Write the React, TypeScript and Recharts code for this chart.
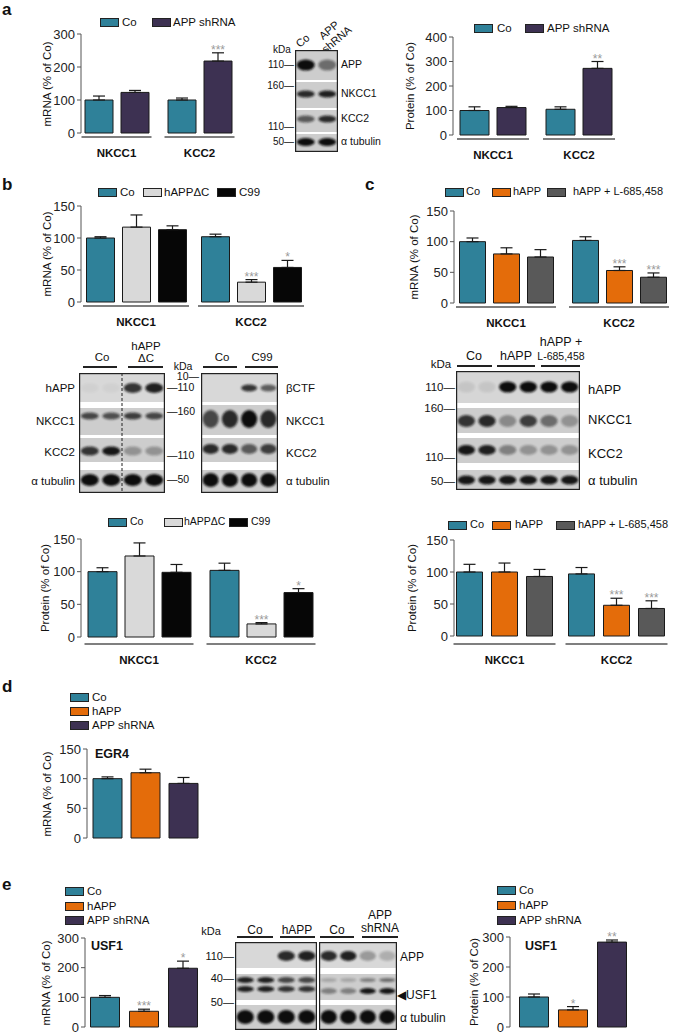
import React from "react";
import { BarChart, Bar, XAxis, YAxis, ErrorBar, LabelList } from "recharts";

const FONT = '"Liberation Sans", Arial, sans-serif';

const TEAL = "#2f8199";
const PURPLE = "#3d3152";
const ORANGE = "#e46c0a";
const DGRAY = "#595959";
const LGRAY = "#d9d9d9";
const BLACK = "#060606";

const groups = ["NKCC1", "KCC2"];
const ticks150 = [0, 50, 100, 150];
const ticks300 = [0, 100, 200, 300];
const ticks400 = [0, 100, 200, 300, 400];

// a: APP shRNA
const aMrnaCo = [100, 100];
const aMrnaCoErr = [12, 6];
const aMrnaSh = [123, 218];
const aMrnaShErr = [6, 25];
const aMrnaShSig = ["", "***"];
const aProtCo = [100, 105];
const aProtCoErr = [15, 10];
const aProtSh = [112, 272];
const aProtShErr = [5, 28];
const aProtShSig = ["", "**"];

// b: hAPPΔC / C99
const bMrnaCo = [100, 102];
const bMrnaCoErr = [2, 4];
const bMrnaDc = [117, 31];
const bMrnaDcErr = [19, 4];
const bMrnaDcSig = ["", "***"];
const bMrnaC99 = [113, 54];
const bMrnaC99Err = [6, 11];
const bMrnaC99Sig = ["", "*"];
const bProtCo = [100, 102];
const bProtCoErr = [6, 11];
const bProtDc = [124, 20];
const bProtDcErr = [20, 2];
const bProtDcSig = ["", "***"];
const bProtC99 = [99, 68];
const bProtC99Err = [12, 6];
const bProtC99Sig = ["", "*"];

// c: hAPP / hAPP + L-685,458
const cMrnaCo = [100, 102];
const cMrnaCoErr = [6, 6];
const cMrnaH = [80, 53];
const cMrnaHErr = [10, 6];
const cMrnaHSig = ["", "***"];
const cMrnaL = [75, 42];
const cMrnaLErr = [12, 7];
const cMrnaLSig = ["", "***"];
const cProtCo = [100, 97];
const cProtCoErr = [12, 10];
const cProtH = [100, 48];
const cProtHErr = [14, 11];
const cProtHSig = ["", "***"];
const cProtL = [93, 43];
const cProtLErr = [11, 12];
const cProtLSig = ["", "***"];

// d: EGR4
const dCo = [100];
const dCoErr = [3];
const dH = [110];
const dHErr = [6];
const dSh = [92];
const dShErr = [10];

// e: USF1
const eMrnaCo = [100];
const eMrnaCoErr = [6];
const eMrnaH = [53];
const eMrnaHErr = [7];
const eMrnaHSig = ["***"];
const eMrnaSh = [198];
const eMrnaShErr = [24];
const eMrnaShSig = ["*"];
const eProtCo = [100];
const eProtCoErr = [10];
const eProtH = [57];
const eProtHErr = [11];
const eProtHSig = ["*"];
const eProtSh = [283];
const eProtShErr = [7];
const eProtShSig = ["**"];

type S = { name: string; color: string; values: number[]; errs: number[]; sigs?: string[] };

const ser = (name: string, color: string, values: number[], errs: number[], sigs?: string[]): S => ({
  name,
  color,
  values,
  errs,
  sigs,
});

function makeRows(cats: string[], series: S[]) {
  return cats.map((c, i) => {
    const r: any = { cat: c };
    series.forEach((s, j) => {
      r[`v${j}`] = s.values[i];
      r[`e${j}`] = [0, s.errs[i]];
      r[`l${j}`] = `${s.sigs ? s.sigs[i] : ""}|${s.errs[i]}`;
    });
    return r;
  });
}

function T({ x, y, a = "start", s = 12, b = false, c = "#111", r = 0, children }: any) {
  const tx = a === "start" ? "0" : a === "middle" ? "-50%" : "-100%";
  return (
    <div
      style={{
        position: "absolute",
        left: x,
        top: y,
        transform: `translate(${tx},-50%)${r ? ` rotate(${r}deg)` : ""}`,
        fontSize: s,
        fontWeight: b ? 700 : 400,
        color: c,
        whiteSpace: "nowrap",
        lineHeight: 1.05,
        textAlign: "center",
      }}
    >
      {children}
    </div>
  );
}

function Swatch({ x, y, color }: any) {
  return (
    <div
      style={{
        position: "absolute",
        left: x,
        top: y - 4,
        width: 17,
        height: 7,
        background: color,
        border: "1px solid #222",
      }}
    />
  );
}

// legend in a row: xs = swatch lefts, ts = text lefts
function LegendRow({ series, y, xs, ts, s = 11.5 }: any) {
  return (
    <>
      {series.map((it: S, i: number) => (
        <React.Fragment key={i}>
          <Swatch x={xs[i]} y={y} color={it.color} />
          <T x={ts[i]} y={y} s={s}>
            {it.name}
          </T>
        </React.Fragment>
      ))}
    </>
  );
}

function LegendCol({ series, x, y, dy }: any) {
  return (
    <>
      {series.map((it: S, i: number) => (
        <React.Fragment key={i}>
          <Swatch x={x} y={y + i * dy} color={it.color} />
          <T x={x + 22} y={y + i * dy} s={11.5}>
            {it.name}
          </T>
        </React.Fragment>
      ))}
    </>
  );
}

type ChartProps = {
  cats: string[];
  series: S[];
  axisX: number;
  top: number;
  bottom: number;
  ticks: number[];
  centers: number[];
  barSize: number;
  barGap: number;
  ylabel: string;
  ylx: number;
  showX?: boolean;
  ul?: number;
  lb?: number;
};

function Chart(p: ChartProps) {
  const AW = 40;
  const MT = 14;
  const showX = p.showX !== false;
  const XH = showX ? 34 : 0;
  const MB = showX ? 0 : 8;
  const n = p.series.length;
  const span = n * p.barSize + (n - 1) * p.barGap;
  const W = p.centers.length > 1 ? p.centers[1] - p.centers[0] : span + 20;
  const B0 = p.centers[0] - W / 2;
  const plotRight = B0 + p.cats.length * W;
  const width = AW + (plotRight - p.axisX) + 2;
  const plotH = p.bottom - p.top;
  const height = MT + plotH + XH + MB;
  const max = p.ticks[p.ticks.length - 1];
  const k = plotH / max;
  const ul = p.ul ?? 4;
  const lb = p.lb ?? 20;
  const data = makeRows(p.cats, p.series);

  const sigContent = (props: any) => {
    const vb = props.viewBox || props;
    const [sig, err] = String(props.value ?? "").split("|");
    if (!sig) return null;
    return (
      <text
        x={vb.x + vb.width / 2}
        y={vb.y - Number(err) * k + 1}
        textAnchor="middle"
        fontSize={12}
        fill="#9a9a9a"
      >
        {sig}
      </text>
    );
  };

  const tick = (props: any) => {
    const { x, y, payload } = props;
    const h = span / 2 + 3;
    return (
      <g>
        <line x1={x - h} x2={x + h} y1={y + ul} y2={y + ul} stroke="#555" strokeWidth={1.4} />
        <text x={x} y={y + lb + 4} textAnchor="middle" fontSize={11.5} fontWeight={700} fill="#111">
          {payload.value}
        </text>
      </g>
    );
  };

  return (
    <>
      <div style={{ position: "absolute", left: p.axisX - AW, top: p.top - MT }}>
        <BarChart
          width={width}
          height={height}
          data={data}
          margin={{ top: MT, right: 2, left: 0, bottom: MB }}
          barSize={p.barSize}
          barGap={p.barGap}
        >
          <XAxis
            dataKey="cat"
            hide={!showX}
            height={XH}
            axisLine={false}
            tickLine={false}
            tickSize={0}
            tickMargin={0}
            interval={0}
            padding={{ left: B0 - p.axisX, right: 0 }}
            tick={tick}
          />
          <YAxis
            width={AW}
            domain={[0, max]}
            ticks={p.ticks}
            interval={0}
            tickSize={4}
            tickMargin={2}
            axisLine={{ stroke: "#555" }}
            tickLine={{ stroke: "#555" }}
            tick={{ fontSize: 13, fill: "#222", fontFamily: FONT }}
          />
          {p.series.map((s, j) => (
            <Bar
              key={j}
              dataKey={`v${j}`}
              fill={s.color}
              stroke="#1a1a1a"
              strokeWidth={1}
              isAnimationActive={false}
            >
              <ErrorBar dataKey={`e${j}`} width={6} stroke="#1a1a1a" strokeWidth={1.2} direction="y" />
              <LabelList dataKey={`l${j}`} content={sigContent} />
            </Bar>
          ))}
        </BarChart>
      </div>
      <T x={p.ylx} y={(p.top + p.bottom) / 2} a="middle" s={11.5} r={-90}>
        {p.ylabel}
      </T>
    </>
  );
}

type Band = { y: number; h: number; v: number[] };
type Row = { t: number; h: number; bands: Band[]; bg?: string };

function Blot({ id, x, y, w, h, lanes, rows, dash }: any) {
  const lw = w / lanes;
  return (
    <svg style={{ position: "absolute", left: x, top: y }} width={w} height={h}>
      <defs>
        <filter id={id} x="-50%" y="-100%" width="200%" height="300%">
          <feGaussianBlur stdDeviation="1.3" />
        </filter>
      </defs>
      <rect width={w} height={h} fill="#fff" />
      {rows.map((r: Row, i: number) => (
        <g key={i}>
          <rect x={0} y={r.t} width={w} height={r.h} fill={r.bg ?? "#cdcdcd"} />
          {r.bands.map((b, j) =>
            b.v.map((v, l) => (
              <ellipse
                key={`${j}-${l}`}
                cx={lw * (l + 0.5)}
                cy={r.t + b.y}
                rx={lw * 0.42}
                ry={b.h / 2}
                fill="#111"
                opacity={v}
                filter={`url(#${id})`}
              />
            ))
          )}
        </g>
      ))}
      {dash ? (
        <line x1={lw * dash} x2={lw * dash} y1={0} y2={h} stroke="#222" strokeDasharray="3 2" />
      ) : null}
      <rect x={0.6} y={0.6} width={w - 1.2} height={h - 1.2} fill="none" stroke="#222" strokeWidth={1.2} />
    </svg>
  );
}

function HLine({ x1, x2, y }: any) {
  return <div style={{ position: "absolute", left: x1, top: y - 1, width: x2 - x1, height: 1.5, background: "#222" }} />;
}

export default function App() {
  const aM = [ser("Co", TEAL, aMrnaCo, aMrnaCoErr), ser("APP shRNA", PURPLE, aMrnaSh, aMrnaShErr, aMrnaShSig)];
  const aP = [ser("Co", TEAL, aProtCo, aProtCoErr), ser("APP shRNA", PURPLE, aProtSh, aProtShErr, aProtShSig)];
  const bM = [
    ser("Co", TEAL, bMrnaCo, bMrnaCoErr),
    ser("hAPPΔC", LGRAY, bMrnaDc, bMrnaDcErr, bMrnaDcSig),
    ser("C99", BLACK, bMrnaC99, bMrnaC99Err, bMrnaC99Sig),
  ];
  const bP = [
    ser("Co", TEAL, bProtCo, bProtCoErr),
    ser("hAPPΔC", LGRAY, bProtDc, bProtDcErr, bProtDcSig),
    ser("C99", BLACK, bProtC99, bProtC99Err, bProtC99Sig),
  ];
  const cM = [
    ser("Co", TEAL, cMrnaCo, cMrnaCoErr),
    ser("hAPP", ORANGE, cMrnaH, cMrnaHErr, cMrnaHSig),
    ser("hAPP + L-685,458", DGRAY, cMrnaL, cMrnaLErr, cMrnaLSig),
  ];
  const cP = [
    ser("Co", TEAL, cProtCo, cProtCoErr),
    ser("hAPP", ORANGE, cProtH, cProtHErr, cProtHSig),
    ser("hAPP + L-685,458", DGRAY, cProtL, cProtLErr, cProtLSig),
  ];
  const dS = [ser("Co", TEAL, dCo, dCoErr), ser("hAPP", ORANGE, dH, dHErr), ser("APP shRNA", PURPLE, dSh, dShErr)];
  const eM = [
    ser("Co", TEAL, eMrnaCo, eMrnaCoErr),
    ser("hAPP", ORANGE, eMrnaH, eMrnaHErr, eMrnaHSig),
    ser("APP shRNA", PURPLE, eMrnaSh, eMrnaShErr, eMrnaShSig),
  ];
  const eP = [
    ser("Co", TEAL, eProtCo, eProtCoErr),
    ser("hAPP", ORANGE, eProtH, eProtHErr, eProtHSig),
    ser("APP shRNA", PURPLE, eProtSh, eProtShErr, eProtShSig),
  ];

  return (
    <div
      style={{
        position: "absolute",
        left: 0,
        top: 0,
        width: 675,
        height: 1034,
        background: "#fff",
        fontFamily: FONT,
        color: "#111",
        overflow: "hidden",
      }}
    >
      {/* panel letters */}
      <T x={2} y={10} s={17} b>a</T>
      <T x={2} y={185} s={17} b>b</T>
      <T x={365} y={185} s={17} b>c</T>
      <T x={2} y={687} s={17} b>d</T>
      <T x={2} y={885} s={17} b>e</T>

      {/* ---- a ---- */}
      <LegendRow series={aM} y={22} xs={[100, 152]} ts={[122, 173]} />
      <Chart cats={groups} series={aM} axisX={81} top={34} bottom={133} ticks={ticks300} centers={[116.5, 199.5]} barSize={28} barGap={8} ylabel="mRNA (% of Co)" ylx={47} />

      <T x={303} y={41} a="middle" s={11} r={-40}>Co</T>
      <T x={333} y={35} a="middle" s={11} r={-40}>APP<br />shRNA</T>
      <T x={282} y={50} a="middle" s={10}>kDa</T>
      <T x={294} y={65} a="end" s={10}>110—</T>
      <T x={294} y={86} a="end" s={10}>160—</T>
      <T x={294} y={127} a="end" s={10}>110—</T>
      <T x={294} y={142} a="end" s={10}>50—</T>
      <Blot
        id="fa"
        x={295}
        y={50}
        w={43}
        h={102}
        lanes={2}
        rows={[
          { t: 0, h: 30, bands: [{ y: 15, h: 11, v: [1, 0.5] }] },
          { t: 32, h: 26, bands: [{ y: 12, h: 7, v: [0.85, 0.9] }] },
          { t: 60, h: 22, bands: [{ y: 9, h: 7, v: [0.6, 0.85] }] },
          { t: 84, h: 18, bands: [{ y: 8, h: 8, v: [1, 1] }] },
        ]}
      />
      <T x={341} y={65} s={10.5}>APP</T>
      <T x={341} y={94} s={10.5}>NKCC1</T>
      <T x={341} y={119} s={10.5}>KCC2</T>
      <T x={341} y={142} s={10.5}>α tubulin</T>

      <LegendRow series={aP} y={28} xs={[474, 525]} ts={[497, 547]} />
      <Chart cats={groups} series={aP} axisX={453} top={37} bottom={135} ticks={ticks400} centers={[493, 579]} barSize={29} barGap={8} ylabel="Protein (% of Co)" ylx={410} />

      {/* ---- b ---- */}
      <LegendRow series={bM} y={192} xs={[98, 143, 217]} ts={[120, 164, 239]} />
      <Chart cats={groups} series={bM} axisX={81} top={206} bottom={302} ticks={ticks150} centers={[136, 251]} barSize={28} barGap={8} ylabel="mRNA (% of Co)" ylx={47} />

      <T x={102} y={357} a="middle" s={11.5}>Co</T>
      <HLine x1={83} x2={117} y={367} />
      <T x={146} y={352} a="middle" s={11.5}>hAPP<br />ΔC</T>
      <HLine x1={128} x2={163} y={367} />
      <T x={222} y={357} a="middle" s={11.5}>Co</T>
      <HLine x1={203} x2={237} y={367} />
      <T x={262} y={357} a="middle" s={11.5}>C99</T>
      <HLine x1={245} x2={278} y={367} />
      <T x={183} y={367} a="middle" s={10.5}>kDa</T>
      <T x={199} y={377} a="end" s={10.5}>10—</T>
      <T x={167} y={388} s={10.5}>—110</T>
      <T x={167} y={412} s={10.5}>—160</T>
      <T x={167} y={456} s={10.5}>—110</T>
      <T x={167} y={480} s={10.5}>—50</T>
      <Blot
        id="fb1"
        x={79}
        y={373}
        w={86}
        h={120}
        lanes={4}
        dash={2}
        rows={[
          { t: 0, h: 29, bg: "#d8d8d8", bands: [{ y: 15, h: 10, v: [0.03, 0.03, 0.8, 0.9] }] },
          { t: 35, h: 27, bands: [{ y: 8, h: 7, v: [0.7, 0.65, 0.75, 0.7] }] },
          { t: 65, h: 24, bands: [{ y: 13, h: 9, v: [0.8, 0.95, 0.3, 0.3] }] },
          { t: 97, h: 23, bands: [{ y: 10, h: 12, v: [1, 1, 1, 1] }] },
        ]}
      />
      <Blot
        id="fb2"
        x={201}
        y={373}
        w={77}
        h={120}
        lanes={4}
        rows={[
          { t: 0, h: 29, bg: "#d8d8d8", bands: [{ y: 15, h: 7, v: [0, 0, 0.8, 0.6] }] },
          { t: 32, h: 30, bands: [{ y: 14, h: 18, v: [0.7, 0.85, 1, 0.85] }] },
          { t: 65, h: 24, bands: [{ y: 11, h: 10, v: [0.85, 0.85, 0.6, 0.75] }] },
          { t: 97, h: 23, bands: [{ y: 10, h: 14, v: [1, 1, 1, 1] }] },
        ]}
      />
      <T x={75} y={388} a="end" s={11.5}>hAPP</T>
      <T x={75} y={421} a="end" s={11.5}>NKCC1</T>
      <T x={75} y={452} a="end" s={11.5}>KCC2</T>
      <T x={75} y={481} a="end" s={11.5}>α tubulin</T>
      <T x={286} y={388} s={11.5}>βCTF</T>
      <T x={286} y={421} s={11.5}>NKCC1</T>
      <T x={286} y={453} s={11.5}>KCC2</T>
      <T x={286} y={481} s={11.5}>α tubulin</T>

      <LegendRow series={bP} y={522} xs={[108, 164, 229]} ts={[130, 184, 251]} s={10.5} />
      <Chart cats={groups} series={bP} axisX={81} top={539} bottom={637} ticks={ticks150} centers={[139, 261]} barSize={29} barGap={8} ylabel="Protein (% of Co)" ylx={45} ul={7} lb={23} />

      {/* ---- c ---- */}
      <LegendRow series={cM} y={192} xs={[445, 492, 547]} ts={[466, 513, 573]} s={11} />
      <Chart cats={groups} series={cM} axisX={454} top={211} bottom={303} ticks={ticks150} centers={[506, 619]} barSize={26} barGap={8} ylabel="mRNA (% of Co)" ylx={414} />

      <T x={474} y={357} a="middle" s={12.5}>Co</T>
      <HLine x1={457} x2={492} y={366} />
      <T x={516} y={357} a="middle" s={12.5}>hAPP</T>
      <HLine x1={497} x2={535} y={366} />
      <T x={561} y={343} a="middle" s={12.5}>hAPP +</T>
      <T x={561} y={357} a="middle" s={10.5}>L-685,458</T>
      <HLine x1={541} x2={580} y={366} />
      <T x={441} y={364} a="middle" s={11.5}>kDa</T>
      <T x={455} y={387} a="end" s={11.5}>110—</T>
      <T x={455} y={408} a="end" s={11.5}>160—</T>
      <T x={455} y={457} a="end" s={11.5}>110—</T>
      <T x={455} y={481} a="end" s={11.5}>50—</T>
      <Blot
        id="fc"
        x={456}
        y={371}
        w={124}
        h={119}
        lanes={6}
        rows={[
          { t: 0, h: 32, bg: "#d6d6d6", bands: [{ y: 16, h: 11, v: [0.08, 0.08, 1, 1, 1, 1] }] },
          { t: 37, h: 25, bands: [{ y: 13, h: 12, v: [0.8, 0.85, 0.35, 0.75, 0.5, 0.3] }] },
          { t: 67, h: 25, bands: [{ y: 12, h: 10, v: [0.95, 0.9, 0.4, 0.3, 0.3, 0.3] }] },
          { t: 99, h: 20, bands: [{ y: 10, h: 9, v: [0.95, 0.95, 0.95, 0.95, 0.95, 0.95] }] },
        ]}
      />
      <T x={588} y={390} s={13}>hAPP</T>
      <T x={588} y={420} s={13}>NKCC1</T>
      <T x={588} y={454} s={13}>KCC2</T>
      <T x={588} y={481} s={13}>α tubulin</T>

      <LegendRow series={cP} y={525} xs={[448, 492, 556]} ts={[470, 515, 578]} s={11} />
      <Chart cats={groups} series={cP} axisX={454} top={540} bottom={636} ticks={ticks150} centers={[504.5, 616.5]} barSize={26} barGap={9} ylabel="Protein (% of Co)" ylx={412} ul={8} lb={24} />

      {/* ---- d ---- */}
      <LegendCol series={dS} x={70} y={697} dy={14} />
      <Chart cats={["EGR4"]} series={dS} axisX={87} top={749} bottom={838} ticks={ticks150} centers={[145.5]} barSize={29} barGap={9} ylabel="mRNA (% of Co)" ylx={47} showX={false} />
      <T x={95} y={755} s={12.5} b>EGR4</T>

      {/* ---- e ---- */}
      <LegendCol series={eM} x={65} y={891} dy={14.5} />
      <Chart cats={["USF1"]} series={eM} axisX={85} top={938} bottom={1027} ticks={ticks300} centers={[144]} barSize={29} barGap={10} ylabel="mRNA (% of Co)" ylx={46} showX={false} />
      <T x={91} y={947} s={12.5} b>USF1</T>

      <T x={211} y={932} a="middle" s={11}>kDa</T>
      <T x={234} y={957} a="end" s={11}>110—</T>
      <T x={234} y={979} a="end" s={11}>40—</T>
      <T x={234} y={1003} a="end" s={11}>50—</T>
      <T x={255} y={930} a="middle" s={12}>Co</T>
      <HLine x1={237} x2={273} y={937} />
      <T x={297} y={930} a="middle" s={12}>hAPP</T>
      <HLine x1={280} x2={315} y={937} />
      <T x={337} y={930} a="middle" s={12}>Co</T>
      <HLine x1={320} x2={354} y={937} />
      <T x={380} y={922} a="middle" s={12}>APP<br />shRNA</T>
      <HLine x1={362} x2={398} y={937} />
      <Blot
        id="fe1"
        x={235}
        y={942}
        w={82}
        h={88}
        lanes={4}
        rows={[
          { t: 0, h: 26, bg: "#d8d8d8", bands: [{ y: 14, h: 10, v: [0, 0, 0.85, 0.9] }] },
          { t: 32, h: 26, bands: [{ y: 6, h: 6, v: [0.9, 0.9, 0.7, 0.7] }, { y: 15, h: 6, v: [0.9, 0.9, 0.8, 0.8] }] },
          { t: 63, h: 25, bands: [{ y: 12, h: 14, v: [1, 1, 1, 1] }] },
        ]}
      />
      <Blot
        id="fe2"
        x={319}
        y={942}
        w={78}
        h={88}
        lanes={4}
        rows={[
          { t: 0, h: 26, bg: "#d8d8d8", bands: [{ y: 14, h: 10, v: [0.85, 0.9, 0.3, 0.2] }] },
          { t: 32, h: 26, bands: [{ y: 6, h: 4, v: [0.2, 0.2, 0.4, 0.5] }, { y: 17, h: 6, v: [0.4, 0.4, 0.95, 0.95] }] },
          { t: 63, h: 25, bands: [{ y: 12, h: 14, v: [1, 1, 1, 1] }] },
        ]}
      />
      <T x={400} y={957} s={12}>APP</T>
      <T x={397} y={995} s={12}>◀USF1</T>
      <T x={400} y={1018} s={12}>α tubulin</T>

      <LegendCol series={eP} x={497} y={890} dy={15} />
      <Chart cats={["USF1"]} series={eP} axisX={510} top={937} bottom={1027} ticks={ticks300} centers={[573]} barSize={29} barGap={10} ylabel="Protein (% of Co)" ylx={474} showX={false} />
      <T x={525} y={947} s={12.5} b>USF1</T>
    </div>
  );
}
